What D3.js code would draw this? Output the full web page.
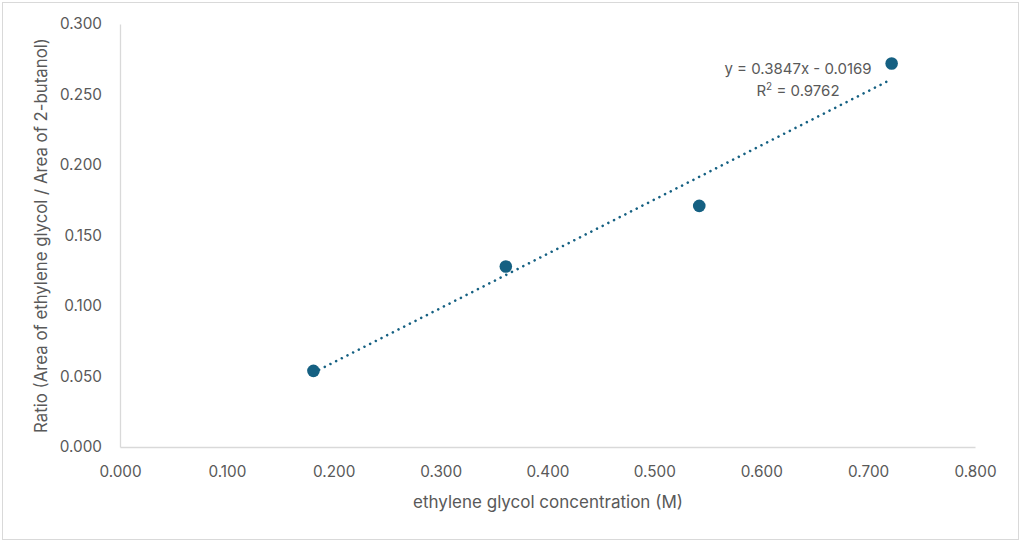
<!DOCTYPE html>
<html>
<head>
<meta charset="utf-8">
<script src="https://cdn.jsdelivr.net/npm/d3@7"></script>
<style>
  body { margin: 0; background: #fff; }
  svg text { font-family: Inter, "Noto Sans", sans-serif; fill: #595959; }
</style>
</head>
<body>
<div id="chart"></div>
<script>
// concentration (M) and area ratio
var concentration = [0.181, 0.361, 0.542, 0.722];
var ratio = [0.054, 0.128, 0.171, 0.272];
var xTicks = [0, 0.1, 0.2, 0.3, 0.4, 0.5, 0.6, 0.7, 0.8];
var yTicks = [0, 0.05, 0.1, 0.15, 0.2, 0.25, 0.3];
// trendline as printed on the chart
var slope = 0.3847, intercept = -0.0169, rSquared = 0.9762;

var totalWidth = 1024,
    totalHeight = 543,
    margin = {top: 24, right: 49, bottom: 96, left: 120},
    width = totalWidth - margin.left - margin.right,
    height = totalHeight - margin.top - margin.bottom;

var x = d3.scaleLinear().domain([0, 0.8]).range([0, width]),
    y = d3.scaleLinear().domain([0, 0.3]).range([height, 0]);

var root = d3.select("#chart").append("svg")
    .attr("width", totalWidth)
    .attr("height", totalHeight);

root.append("rect")
    .attr("x", 2.5).attr("y", 2.5)
    .attr("width", 1016).attr("height", 537)
    .attr("fill", "#fff")
    .attr("stroke", "#d9d9d9");

var svg = root.append("g")
    .attr("transform", "translate(" + margin.left + "," + margin.top + ")");

// axes
var xAxis = svg.append("g")
    .attr("transform", "translate(0," + height + ")")
    .call(d3.axisBottom(x).tickValues(xTicks).tickSize(0).tickPadding(19).tickFormat(d3.format(".3f")));
var yAxis = svg.append("g")
    .call(d3.axisLeft(y).tickValues(yTicks).tickSize(0).tickPadding(18).tickFormat(d3.format(".3f")));
[xAxis, yAxis].forEach(function (a) {
    a.select(".domain").attr("stroke", "#d9d9d9").attr("stroke-width", 1.3);
    a.selectAll("text").attr("font-size", 15.3).attr("fill", "#595959")
        .style("font-family", "Inter, 'Noto Sans', sans-serif");
});

// trendline
var xs = d3.extent(concentration);
svg.append("line")
    .attr("x1", x(xs[0])).attr("y1", y(slope * xs[0] + intercept))
    .attr("x2", x(xs[1])).attr("y2", y(slope * xs[1] + intercept))
    .attr("stroke", "#156082")
    .attr("stroke-width", 2.6)
    .attr("stroke-linecap", "round")
    .attr("stroke-dasharray", "0.01,6.35");

// points
svg.selectAll(".pt")
    .data(concentration)
    .enter()
    .append("circle")
    .attr("class", "pt")
    .attr("cx", function (d) { return x(d); })
    .attr("cy", function (d, i) { return y(ratio[i]); })
    .attr("r", 6.3)
    .attr("fill", "#156082");

// equation label
var eq = root.append("text")
    .attr("x", 798).attr("y", 74)
    .attr("text-anchor", "middle")
    .attr("font-size", 15)
    .text("y = " + slope + "x - " + Math.abs(intercept).toFixed(4));
var r2 = root.append("text")
    .attr("x", 798).attr("y", 96)
    .attr("text-anchor", "middle")
    .attr("font-size", 15);
r2.append("tspan").text("R");
r2.append("tspan").attr("font-size", 10).attr("dy", -6).text("2");
r2.append("tspan").attr("dy", 6).text(" = " + rSquared);

// axis titles
root.append("text")
    .attr("x", 548).attr("y", 508)
    .attr("text-anchor", "middle")
    .attr("font-size", 17)
    .text("ethylene glycol concentration (M)");
root.append("text")
    .attr("transform", "translate(47," + (margin.top + height / 2) + ") rotate(-90)")
    .attr("text-anchor", "middle")
    .attr("font-size", 16.8)
    .text("Ratio (Area of ethylene glycol / Area of 2-butanol)");
</script>
</body>
</html>
